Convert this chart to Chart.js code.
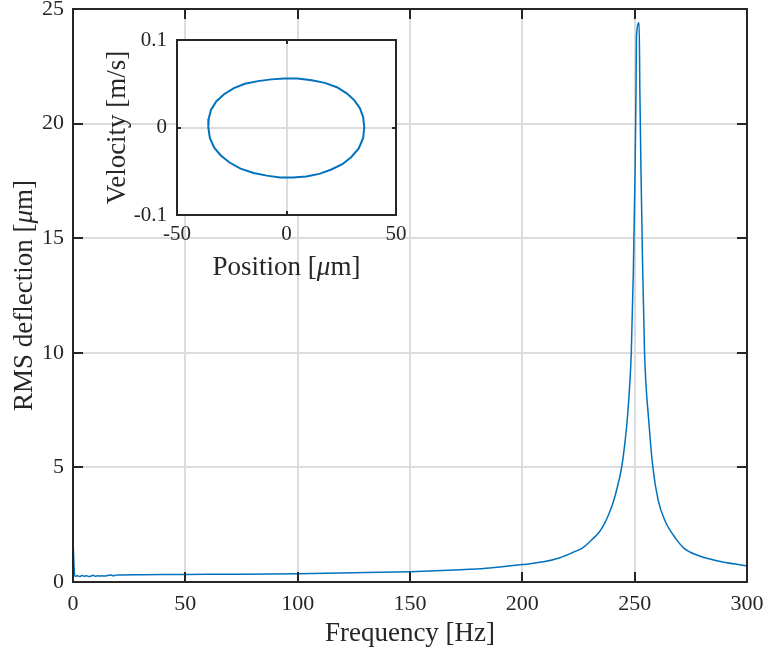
<!DOCTYPE html>
<html>
<head>
<meta charset="utf-8">
<script src="https://cdn.jsdelivr.net/npm/chart.js@4.4.0/dist/chart.umd.min.js"></script>
<style>
  html, body { margin: 0; padding: 0; background: #fff; }
  #wrap { position: relative; width: 766px; height: 655px; }
  #mainChart { position: absolute; left: 0; top: 0; }
  #insetChart { position: absolute; left: 95px; top: 30px; }
</style>
</head>
<body>
<div id="wrap">
  <canvas id="mainChart" width="766" height="655"></canvas>
  <canvas id="insetChart" width="320" height="255"></canvas>
</div>
<script>
// frequency response
const freqHz = [0, 0.8, 2, 3, 4, 5, 6, 7, 8, 9, 10, 11, 12, 13, 14, 15, 16, 17, 18, 19, 20,
  30, 50, 75, 100, 125, 150, 170, 180, 182, 190, 200, 210, 216.7, 222.7, 227, 230.8, 234, 236, 238, 240.2, 242.2,
  244.2, 245.7, 246.8, 247.8, 248.5, 249.4, 250.2, 250.6, 250.8, 252.0, 252.3, 252.8, 253.5, 254.4,
  256.3, 258.1, 260.5, 263.6, 268.5, 272, 277.6, 286.5, 300];
const rmsDefl = [1.83, 0.25, 0.27, 0.24, 0.28, 0.25, 0.27, 0.24, 0.26, 0.29, 0.25, 0.27, 0.26, 0.27, 0.26, 0.27, 0.29, 0.3, 0.27, 0.3, 0.31,
  0.32, 0.33, 0.34, 0.36, 0.40, 0.45, 0.52, 0.57, 0.58, 0.65, 0.76, 0.89, 1.06, 1.3, 1.5, 1.83, 2.15, 2.45, 2.85, 3.4, 4.1,
  5.0, 6.1, 7.2, 8.6, 10.0, 13.5, 18.0, 21.5, 23.8, 24.4, 21.5, 18.0, 14.0, 10.0,
  7.0, 5.0, 3.55, 2.65, 1.87, 1.47, 1.18, 0.93, 0.70];

// phase portrait in the inset
const posUm = [35.5, 35, 33.5, 31, 27.5, 23, 17.5, 11.5, 5, -1, -7, -13, -19, -24, -28.5, -32, -34.5, -35.5,
  -35.7, -35, -33, -30, -26, -21, -15, -9, -3, 3, 9, 15, 20.5, 25.5, 29.5, 33, 35, 35.5];
const velMs = [0, 0.012, 0.022, 0.031, 0.039, 0.046, 0.051, 0.054, 0.056, 0.056, 0.055, 0.053, 0.05, 0.045, 0.038, 0.03, 0.02, 0.01,
  0, -0.012, -0.023, -0.032, -0.04, -0.047, -0.052, -0.055, -0.057, -0.057, -0.056, -0.053, -0.048, -0.042, -0.034, -0.024, -0.012, 0];

const xTicksMain = [0, 50, 100, 150, 200, 250, 300];
const yTicksMain = [0, 5, 10, 15, 20, 25];
const xTicksInset = [-50, 0, 50];
const yTicksInset = [-0.1, 0, 0.1];

const serif = "'Liberation Serif', 'Times New Roman', serif";
const ink = '#262626';
const lineBlue = '#0072BD';

// draws a title made of plain / italic pieces, centred on (cx, cy)
function drawTitle(ctx, parts, cx, cy, size, rotate) {
    ctx.save();
    ctx.translate(cx, cy);
    if (rotate) ctx.rotate(-Math.PI / 2);
    ctx.fillStyle = ink;
    ctx.textBaseline = 'middle';
    const fonts = parts.map(p => (p.it ? 'italic ' : '') + size + 'px ' + serif);
    let total = 0;
    const widths = parts.map((p, i) => { ctx.font = fonts[i]; const w = ctx.measureText(p.t).width; total += w; return w; });
    let x = -total / 2;
    parts.forEach((p, i) => { ctx.font = fonts[i]; ctx.fillText(p.t, x, 0); x += widths[i]; });
    ctx.restore();
}

const boxPlugin = {
    id: 'box',
    beforeDraw(chart, args, opts) {
        if (!opts.fill) return;
        const { ctx, chartArea: a } = chart;
        ctx.save();
        ctx.fillStyle = '#ffffff';
        ctx.fillRect(a.left, a.top, a.width, a.height);
        ctx.restore();
    },
    afterDraw(chart, args, opts) {
        const { ctx, chartArea: a, scales } = chart;
        const len = opts.tickLen || 8;
        ctx.save();
        ctx.strokeStyle = ink;
        ctx.lineWidth = opts.lineWidth || 2;
        ctx.beginPath();
        scales.x.ticks.forEach(t => {
            const px = Math.round(scales.x.getPixelForValue(t.value));
            ctx.moveTo(px, a.bottom); ctx.lineTo(px, a.bottom - len);
            ctx.moveTo(px, a.top); ctx.lineTo(px, a.top + len);
        });
        scales.y.ticks.forEach(t => {
            const py = Math.round(scales.y.getPixelForValue(t.value));
            ctx.moveTo(a.left, py); ctx.lineTo(a.left + len, py);
            ctx.moveTo(a.right, py); ctx.lineTo(a.right - len, py);
        });
        ctx.stroke();
        ctx.strokeRect(a.left, a.top, a.width, a.height);
        ctx.restore();
        const cx = (a.left + a.right) / 2, cy = (a.top + a.bottom) / 2;
        drawTitle(ctx, opts.xTitle, cx, a.bottom + opts.xTitleOff, opts.titleSize, false);
        drawTitle(ctx, opts.yTitle, a.left - opts.yTitleOff, cy, opts.titleSize, true);
    }
};

function fixedTicks(list) {
    return function (scale) { scale.ticks = list.map(v => ({ value: v })); };
}
function noPad(s) {
    s.paddingLeft = 0; s.paddingRight = 0; s.paddingTop = 0; s.paddingBottom = 0;
}

new Chart(document.getElementById('mainChart'), {
    type: 'line',
    data: {
        datasets: [{
            data: freqHz.map((f, i) => ({ x: f, y: rmsDefl[i] })),
            borderColor: lineBlue,
            borderWidth: 1.5,
            pointRadius: 0,
            cubicInterpolationMode: 'monotone',
            fill: false
        }]
    },
    options: {
        responsive: false,
        animation: false,
        layout: { padding: { left: 0, right: 19, top: 9, bottom: 0 } },
        plugins: {
            legend: { display: false },
            tooltip: { enabled: false },
            box: {
                tickLen: 10, lineWidth: 2, titleSize: 27,
                xTitle: [{ t: 'Frequency [Hz]' }], xTitleOff: 52,
                yTitle: [{ t: 'RMS deflection [' }, { t: 'μ', it: true }, { t: 'm]' }], yTitleOff: 48
            }
        },
        scales: {
            x: {
                type: 'linear', min: 0, max: 300,
                afterBuildTicks: fixedTicks(xTicksMain),
                afterFit: s => { s.height = 73; noPad(s); },
                grid: { color: '#dcdcdc', lineWidth: 2, drawTicks: false },
                border: { display: false },
                ticks: { color: ink, font: { family: serif, size: 22 }, padding: 9, maxRotation: 0 }
            },
            y: {
                type: 'linear', min: 0, max: 25,
                afterBuildTicks: fixedTicks(yTicksMain),
                afterFit: s => { s.width = 73; noPad(s); },
                grid: { color: '#dcdcdc', lineWidth: 2, drawTicks: false },
                border: { display: false },
                ticks: { color: ink, font: { family: serif, size: 22 }, padding: 9 }
            }
        }
    },
    plugins: [boxPlugin]
});

new Chart(document.getElementById('insetChart'), {
    type: 'line',
    data: {
        datasets: [{
            data: posUm.map((p, i) => ({ x: p, y: velMs[i] })),
            borderColor: lineBlue,
            borderWidth: 2,
            pointRadius: 0,
            tension: 0,
            fill: false
        }]
    },
    options: {
        responsive: false,
        animation: false,
        layout: { padding: { left: 0, right: 19, top: 10, bottom: 0 } },
        plugins: {
            legend: { display: false },
            tooltip: { enabled: false },
            box: {
                tickLen: 4, lineWidth: 2, fill: true, titleSize: 27,
                xTitle: [{ t: 'Position [' }, { t: 'μ', it: true }, { t: 'm]' }], xTitleOff: 53,
                yTitle: [{ t: 'Velocity [m/s]' }], yTitleOff: 59
            }
        },
        scales: {
            x: {
                type: 'linear', min: -50, max: 50,
                afterBuildTicks: fixedTicks(xTicksInset),
                afterFit: s => { s.height = 70; noPad(s); },
                grid: { color: '#dcdcdc', lineWidth: 2, drawTicks: false },
                border: { display: false },
                ticks: { color: ink, font: { family: serif, size: 21 }, padding: 7, maxRotation: 0 }
            },
            y: {
                type: 'linear', min: -0.1, max: 0.1,
                afterBuildTicks: fixedTicks(yTicksInset),
                afterFit: s => { s.width = 82; noPad(s); },
                grid: { color: '#dcdcdc', lineWidth: 2, drawTicks: false },
                border: { display: false },
                ticks: { color: ink, font: { family: serif, size: 21 }, padding: 10 }
            }
        }
    },
    plugins: [boxPlugin]
});
</script>
</body>
</html>
